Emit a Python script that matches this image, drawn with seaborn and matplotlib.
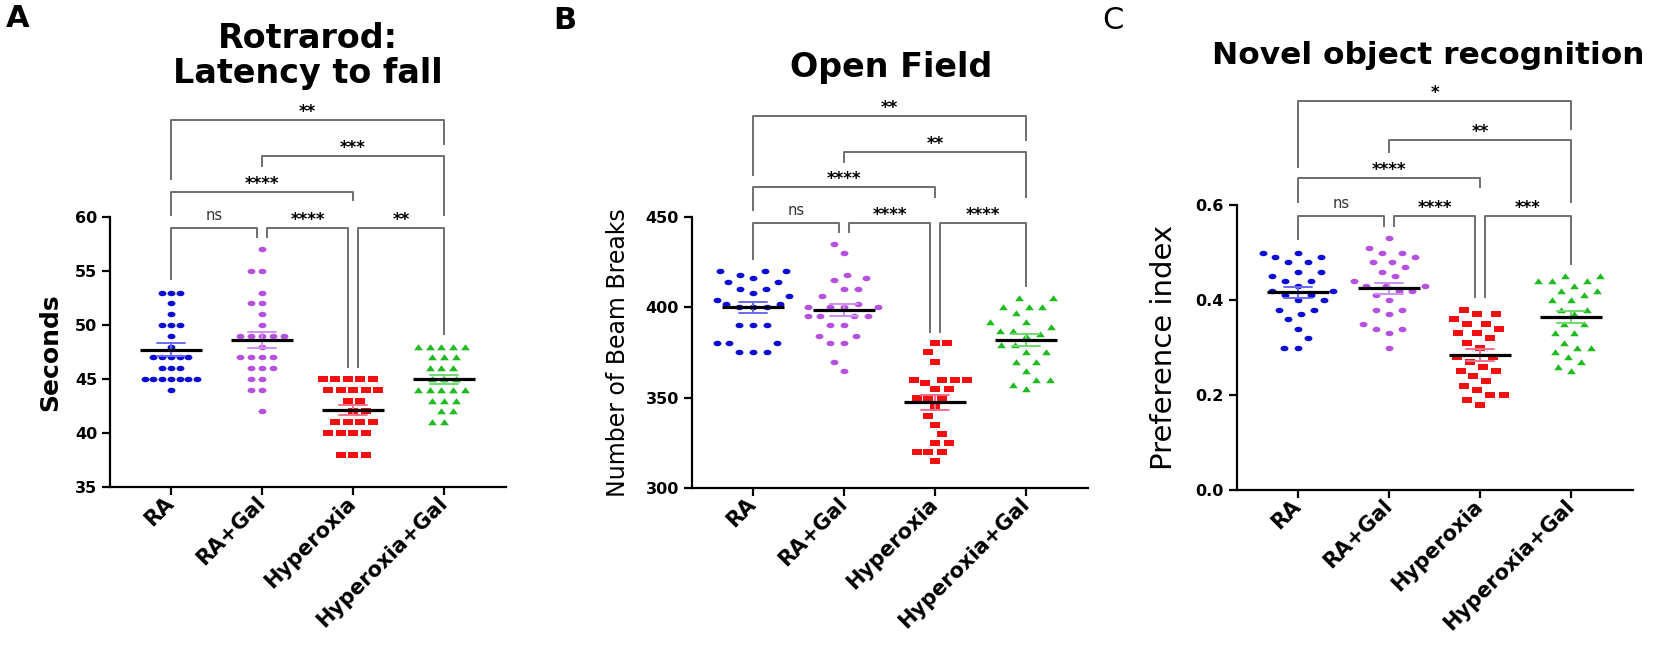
import numpy as np
import pandas as pd
import matplotlib
matplotlib.use('Agg')
import matplotlib.pyplot as plt
import seaborn as sns
from matplotlib.path import Path
from matplotlib.transforms import Affine2D, blended_transform_factory
from matplotlib.ticker import FormatStrFormatter

# [1. data]
groups = ['RA', 'RA+Gal', 'Hyperoxia', 'Hyperoxia+Gal']

# Rotarod: latency to fall (seconds)
rot_ra = [53, 53, 53, 52, 51, 50, 50, 50, 49, 48, 47, 47, 47, 47, 47, 46, 46, 46,
          45, 45, 45, 45, 45, 45, 45, 44]
rot_ragal = [57, 55, 55, 53, 52, 52, 51, 50, 49, 49, 49, 49, 49, 48, 47, 47, 47, 47,
             46, 46, 46, 45, 45, 44, 44, 42]
rot_hyp = [45, 45, 45, 45, 45, 44, 44, 44, 44, 44, 43, 43, 42, 42, 41, 41, 41, 41,
           40, 40, 40, 40, 38, 38, 38]
rot_hypgal = [48, 48, 48, 48, 48, 47, 47, 47, 46, 46, 46, 45, 45, 45, 44, 44, 44, 44,
              44, 43, 43, 43, 42, 42, 41, 41]

# Open field: number of beam breaks
of_ra = [420, 420, 420, 418, 416, 414, 414, 410, 410, 408, 406, 404, 402, 402, 400,
         400, 400, 390, 390, 390, 380, 380, 380, 375, 375, 375]
of_ragal = [435, 430, 418, 416, 415, 410, 410, 406, 402, 400, 400, 400, 400, 395, 395,
            395, 395, 390, 390, 384, 384, 380, 380, 370, 365]
of_hyp = [380, 380, 375, 370, 360, 360, 360, 360, 358, 355, 355, 350, 350, 350, 345,
          340, 335, 330, 325, 325, 320, 320, 320, 315]
of_hypgal = [405, 405, 400, 400, 400, 397, 392, 392, 389, 387, 387, 385, 384, 379, 379,
             375, 375, 370, 370, 365, 360, 360, 357, 355]

# Novel object recognition: preference index
nor_ra = [0.50, 0.50, 0.49, 0.49, 0.48, 0.48, 0.46, 0.46, 0.45, 0.44, 0.44, 0.43, 0.42,
          0.42, 0.41, 0.41, 0.40, 0.40, 0.38, 0.38, 0.37, 0.36, 0.34, 0.32, 0.30, 0.30]
nor_ragal = [0.53, 0.51, 0.50, 0.50, 0.49, 0.48, 0.48, 0.47, 0.46, 0.45, 0.44, 0.43, 0.43,
             0.43, 0.42, 0.42, 0.41, 0.40, 0.38, 0.38, 0.37, 0.35, 0.34, 0.34, 0.33, 0.30]
nor_hyp = [0.38, 0.37, 0.37, 0.36, 0.35, 0.35, 0.34, 0.33, 0.33, 0.32, 0.31, 0.30, 0.28,
           0.28, 0.27, 0.26, 0.25, 0.25, 0.24, 0.23, 0.22, 0.21, 0.20, 0.20, 0.19, 0.18]
nor_hypgal = [0.45, 0.45, 0.44, 0.44, 0.44, 0.43, 0.42, 0.42, 0.41, 0.40, 0.40, 0.38, 0.38,
              0.37, 0.35, 0.35, 0.33, 0.33, 0.31, 0.30, 0.30, 0.29, 0.28, 0.27, 0.26, 0.25]

# significance labels: level1 (3 neighbours), RA-Hyp, RAGal-HypGal, RA-HypGal
sig_rot = ['ns', '****', '**', '****', '***', '**']
sig_of = ['ns', '****', '****', '****', '**', '**']
sig_nor = ['ns', '****', '***', '****', '**', '*']

# [2. style]
sns.set_style('ticks')
plt.rcParams['font.family'] = ['DejaVu Sans']
plt.rcParams['axes.linewidth'] = 1.6
for k in ['text.color', 'axes.labelcolor', 'xtick.color', 'ytick.color', 'axes.edgecolor']:
    plt.rcParams[k] = 'black'

colors = ['#0b0bd6', '#b550e0', '#f01010', '#1fba1f']
err_colors = ['#6a6af0', '#cf8ff0', '#f5708a', '#70d870']

# 원본 그림이 가로로 늘어나 있어서 마커도 납작하게
circle = Path.unit_circle().transformed(Affine2D().scale(1.45, 1.0))
square = Path([(-1.6, -1), (1.6, -1), (1.6, 1), (-1.6, 1), (-1.6, -1)], closed=True)
triangle = Path([(-1.35, -0.85), (1.35, -0.85), (0, 1.0), (-1.35, -0.85)], closed=True)
shapes = [circle, circle, square, triangle]


def spaced_marker(path, frac):
    # 보이지 않는 점을 추가해서 swarm 간격(size)보다 마커를 작게 그림
    far = np.max(np.abs(path.vertices)) / frac
    verts = np.vstack([path.vertices, [[far, 0], [-far, 0]]])
    codes = np.concatenate([path.codes, [Path.MOVETO, Path.MOVETO]])
    return Path(verts, codes)


def bracket(ax, x1, x2, y, y1, y2, label):
    tr = blended_transform_factory(ax.transData, ax.transAxes)
    ax.plot([x1, x1, x2, x2], [y1, y, y, y2], color='#6e6e6e', lw=1.4,
            transform=tr, clip_on=False, solid_capstyle='butt')
    ns = label == 'ns'
    ax.annotate(label, xy=((x1 + x2) / 2, y), xycoords=tr,
                xytext=(0, 5.5 if ns else 2.0), textcoords='offset points',
                ha='center', va='baseline', fontsize=10.5 if ns else 12,
                fontweight='normal' if ns else 'bold',
                color='#333333' if ns else 'black', annotation_clip=False)


def draw_panel(ax, values, ylim, yticks, ylabel, label_kw, label_x, sigs, levels, legs,
               sizes, fracs):
    df = pd.DataFrame({
        'group': np.repeat(groups, [len(v) for v in values]),
        'value': np.concatenate(values),
    })
    for g, c, ec, m, s, f in zip(groups, colors, err_colors, shapes, sizes, fracs):
        sub = df[df['group'] == g]
        sns.swarmplot(data=sub, x='group', y='value', order=groups, color=c,
                      marker=spaced_marker(m, f), size=s, linewidth=0, ax=ax)
        sns.pointplot(data=sub, x='group', y='value', order=groups, color=ec,
                      errorbar='se', capsize=0.3, marker='none', linestyle='none',
                      err_kws={'linewidth': 1.4, 'zorder': 4}, ax=ax)
    # 평균선 (검정)
    sns.pointplot(data=df, x='group', y='value', order=groups, errorbar=None,
                  color='black', marker='_', markersize=44, markeredgewidth=2.3,
                  linestyle='none', zorder=5, ax=ax)

    ax.set_xlim(-0.67, 3.68)
    ax.set_ylim(*ylim)
    ax.set_yticks(yticks)
    sns.despine(ax=ax)
    ax.set_xlabel('')
    ax.set_ylabel(ylabel, **label_kw)
    ax.yaxis.set_label_coords(label_x, 0.5)
    ax.tick_params(axis='both', length=5.8, width=1.6, color='black')
    ax.tick_params(axis='y', labelsize=11.5)
    for t in ax.get_yticklabels():
        t.set_fontweight('bold')
    ax.set_xticks(range(len(groups)))
    ax.set_xticklabels(groups, rotation=45, ha='right', va='center',
                       rotation_mode='anchor', fontweight='bold', fontsize=15)

    d = 0.055
    spans = [(0, 1 - d), (1 + d, 2 - d), (2 + d, 3), (0, 2), (1, 3), (0, 3)]
    lv = [levels[0], levels[0], levels[0], levels[1], levels[2], levels[3]]
    for (x1, x2), y, (y1, y2), s in zip(spans, lv, legs, sigs):
        bracket(ax, x1, x2, y, y1, y2, s)


# [3. figure]
fig = plt.figure(figsize=(16.56, 6.51), dpi=100)
W, H = 1656, 651
axA = fig.add_axes([110 / W, 1 - 487 / H, 396 / W, 270 / H])
axB = fig.add_axes([692 / W, 1 - 488 / H, 396 / W, 271 / H])
axC = fig.add_axes([1237 / W, 1 - 490 / H, 396 / W, 285 / H])

draw_panel(axA, [rot_ra, rot_ragal, rot_hyp, rot_hypgal], (35, 60), [35, 40, 45, 50, 55, 60],
           'Seconds', {'fontsize': 18, 'fontweight': 'bold'}, -0.12, sig_rot,
           [0.959, 1.093, 1.226, 1.359],
           [(0.767, 0.922), (0.922, 0.441), (0.441, 0.563), (1.004, 1.059),
            (1.185, 1.004), (1.137, 1.267)],
           sizes=[6.0, 7.5, 8.6, 8.0], fracs=[0.95, 0.76, 0.85, 0.8])
draw_panel(axB, [of_ra, of_ragal, of_hyp, of_hypgal], (300, 450), [300, 350, 400, 450],
           'Number of Beam Breaks', {'fontsize': 17}, -0.157, sig_of,
           [0.978, 1.111, 1.240, 1.373],
           [(0.841, 0.941), (0.941, 0.572), (0.572, 0.742), (1.022, 1.070),
            (1.199, 1.070), (1.151, 1.280)],
           sizes=[9.5, 9.5, 8, 9.5], fracs=[0.6, 0.6, 0.9, 0.66])
draw_panel(axC, [nor_ra, nor_ragal, nor_hyp, nor_hypgal], (0, 0.6), [0.0, 0.2, 0.4, 0.6],
           'Preference index', {'fontsize': 21}, -0.15, sig_nor,
           [0.961, 1.095, 1.228, 1.365],
           [(0.877, 0.923), (0.923, 0.674), (0.674, 0.789), (1.007, 1.060),
            (1.182, 1.007), (1.130, 1.263)],
           sizes=[9.5, 9.5, 9.5, 9.5], fracs=[0.6, 0.6, 0.72, 0.66])
axC.yaxis.set_major_formatter(FormatStrFormatter('%.1f'))
for t in axC.get_yticklabels():
    t.set_fontweight('bold')

# 제목
fig.text(308 / W, 1 - 56 / H, 'Rotrarod:\nLatency to fall', ha='center', va='center',
         fontsize=24, fontweight='bold', linespacing=1.1)
fig.text(891 / W, 1 - 77 / H, 'Open Field', ha='center', va='baseline',
         fontsize=24, fontweight='bold')
fig.text(1428 / W, 1 - 64 / H, 'Novel object recognition', ha='center', va='baseline',
         fontsize=22.5, fontweight='bold')

# 패널 라벨
fig.text(6 / W, 1 - 4 / H, 'A', ha='left', va='top', fontsize=22, fontweight='bold')
fig.text(553 / W, 1 - 6 / H, 'B', ha='left', va='top', fontsize=22, fontweight='bold')
fig.text(1102 / W, 1 - 6 / H, 'C', ha='left', va='top', fontsize=22)

fig.savefig('out.png', dpi=100)
